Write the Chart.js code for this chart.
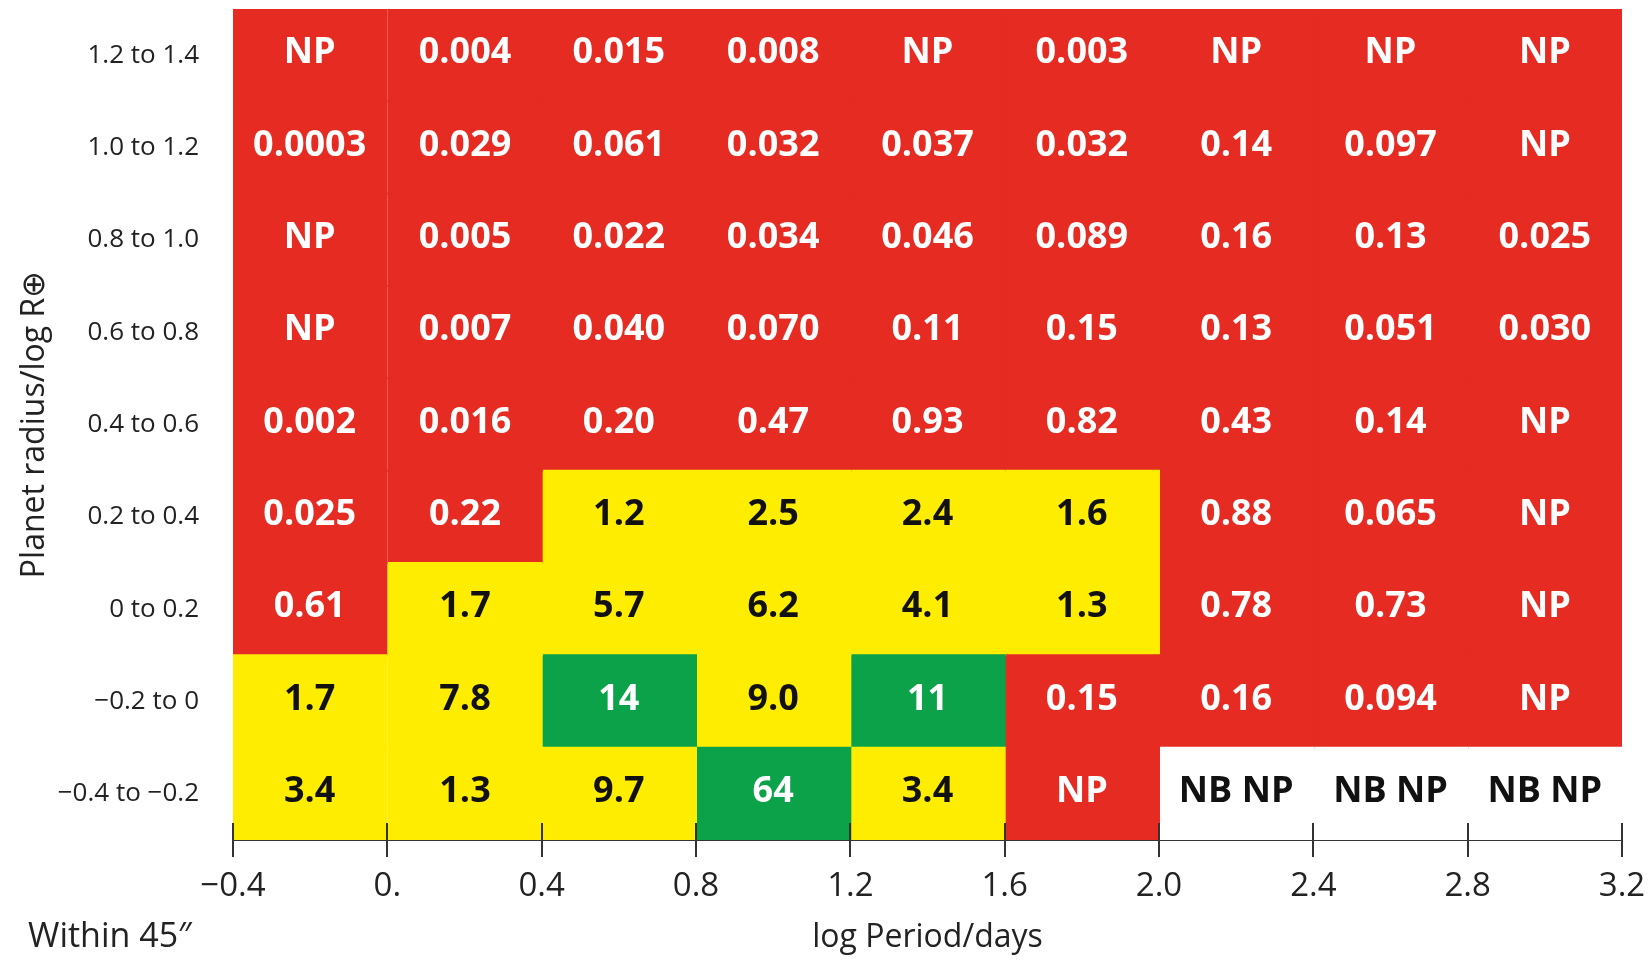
<!DOCTYPE html>
<html>
<head>
<meta charset="utf-8">
<script src="https://cdn.jsdelivr.net/npm/chart.js@4.4.1/dist/chart.umd.min.js"></script>
<style>
  html, body { margin: 0; padding: 0; background: #fff; }
  #wrap { width: 1650px; height: 961px; }
</style>
</head>
<body>
<div id="wrap"><canvas id="grade"></canvas></div>
<script>
// radius bins, top to bottom
const radiusBins = ["1.2 to 1.4", "1.0 to 1.2", "0.8 to 1.0", "0.6 to 0.8", "0.4 to 0.6",
  "0.2 to 0.4", "0 to 0.2", "\u22120.2 to 0", "\u22120.4 to \u22120.2"];
// period bin edges (log days)
const periodEdges = [-0.4, 0, 0.4, 0.8, 1.2, 1.6, 2.0, 2.4, 2.8, 3.2];
const periodTicks = ["\u22120.4", "0.", "0.4", "0.8", "1.2", "1.6", "2.0", "2.4", "2.8", "3.2"];

const cellValues = [
  ["NP", "0.004", "0.015", "0.008", "NP", "0.003", "NP", "NP", "NP"],
  ["0.0003", "0.029", "0.061", "0.032", "0.037", "0.032", "0.14", "0.097", "NP"],
  ["NP", "0.005", "0.022", "0.034", "0.046", "0.089", "0.16", "0.13", "0.025"],
  ["NP", "0.007", "0.040", "0.070", "0.11", "0.15", "0.13", "0.051", "0.030"],
  ["0.002", "0.016", "0.20", "0.47", "0.93", "0.82", "0.43", "0.14", "NP"],
  ["0.025", "0.22", "1.2", "2.5", "2.4", "1.6", "0.88", "0.065", "NP"],
  ["0.61", "1.7", "5.7", "6.2", "4.1", "1.3", "0.78", "0.73", "NP"],
  ["1.7", "7.8", "14", "9.0", "11", "0.15", "0.16", "0.094", "NP"],
  ["3.4", "1.3", "9.7", "64", "3.4", "NP", "NB NP", "NB NP", "NB NP"]
];
// R = red, Y = yellow, G = green, W = white (no data)
const cellGrade = [
  "RRRRRRRRR",
  "RRRRRRRRR",
  "RRRRRRRRR",
  "RRRRRRRRR",
  "RRRRRRRRR",
  "RRYYYYRRR",
  "RYYYYYRRR",
  "YYGYGRRRR",
  "YYYGYRWWW"
];

const fill = { R: "#e52b22", Y: "#ffed00", G: "#0ba24a", W: "#ffffff" };
const ink = { R: "#ffffff", Y: "#111111", G: "#ffffff", W: "#111111" };

const datasets = [];
for (let j = 0; j < periodEdges.length - 1; j++) {
  datasets.push({
    label: periodTicks[j],
    data: radiusBins.map(() => [periodEdges[j], periodEdges[j + 1]]),
    backgroundColor: cellGrade.map(r => fill[r[j]]),
    borderWidth: 0,
    inflateAmount: 1,
    grouped: false,
    barPercentage: 1,
    categoryPercentage: 1
  });
}

const cellText = {
  id: "cellText",
  afterDatasetsDraw(chart) {
    const ctx = chart.ctx;
    ctx.save();
    ctx.textAlign = "center";
    ctx.textBaseline = "middle";
    chart.data.datasets.forEach((ds, j) => {
      chart.getDatasetMeta(j).data.forEach((bar, i) => {
        const g = cellGrade[i][j];
        ctx.fillStyle = ink[g];
        ctx.font = "bold 36px 'Open Sans'";
        const x = (bar.x + bar.base) / 2;
        ctx.fillText(cellValues[i][j], x, bar.y - 2);
      });
    });
    ctx.restore();
  }
};

// tick marks also rise above the axis line, and the corner note
const axisExtras = {
  id: "axisExtras",
  afterDraw(chart) {
    const ctx = chart.ctx;
    const xs = chart.scales.x;
    const yb = chart.chartArea.bottom;
    ctx.save();
    ctx.strokeStyle = "#333";
    ctx.lineWidth = 2;
    periodEdges.forEach(v => {
      const px = Math.round(xs.getPixelForValue(v));
      ctx.beginPath();
      ctx.moveTo(px, yb - 17);
      ctx.lineTo(px, yb);
      ctx.stroke();
    });
    ctx.fillStyle = "#222";
    ctx.font = "34px 'Open Sans'";
    ctx.textAlign = "left";
    ctx.textBaseline = "middle";
    ctx.fillText("Within 45\u2033", 28, 937);
    ctx.restore();
  }
};

new Chart(document.getElementById("grade"), {
  type: "bar",
  data: { labels: radiusBins, datasets: datasets },
  options: {
    indexAxis: "y",
    responsive: true,
    maintainAspectRatio: false,
    animation: false,
    layout: { padding: { top: 9, right: 28, left: 0, bottom: 0 } },
    plugins: {
      legend: { display: false },
      tooltip: { enabled: false }
    },
    scales: {
      x: {
        type: "linear",
        min: -0.4,
        max: 3.2,
        afterBuildTicks: s => { s.ticks = periodEdges.map(v => ({ value: v })); },
        afterFit: s => { s.height = 121; s.paddingLeft = 0; s.paddingRight = 0; },
        ticks: {
          autoSkip: false,
          maxRotation: 0,
          padding: 10,
          color: "#222",
          font: { family: "'Open Sans'", size: 33 },
          callback: (v, i) => periodTicks[i]
        },
        grid: { drawOnChartArea: false, drawTicks: true, tickLength: 17, color: "#333", lineWidth: 2 },
        border: { display: true, color: "#333", width: 2 },
        title: {
          display: true,
          text: "log Period/days",
          color: "#222",
          font: { family: "'Open Sans'", size: 32 },
          padding: { top: 0, bottom: 4 }
        }
      },
      y: {
        afterFit: s => { s.width = 233; s.paddingTop = 0; s.paddingBottom = 0; },
        ticks: {
          color: "#222",
          padding: 26,
          font: { family: "'Open Sans'", size: 26 }
        },
        grid: { display: false },
        border: { display: false },
        title: {
          display: true,
          text: "Planet radius/log R\u2295",
          color: "#222",
          font: { family: "'Open Sans'", size: 32 },
          padding: { top: 16, bottom: 0 }
        }
      }
    }
  },
  plugins: [cellText, axisExtras]
});
</script>
</body>
</html>
